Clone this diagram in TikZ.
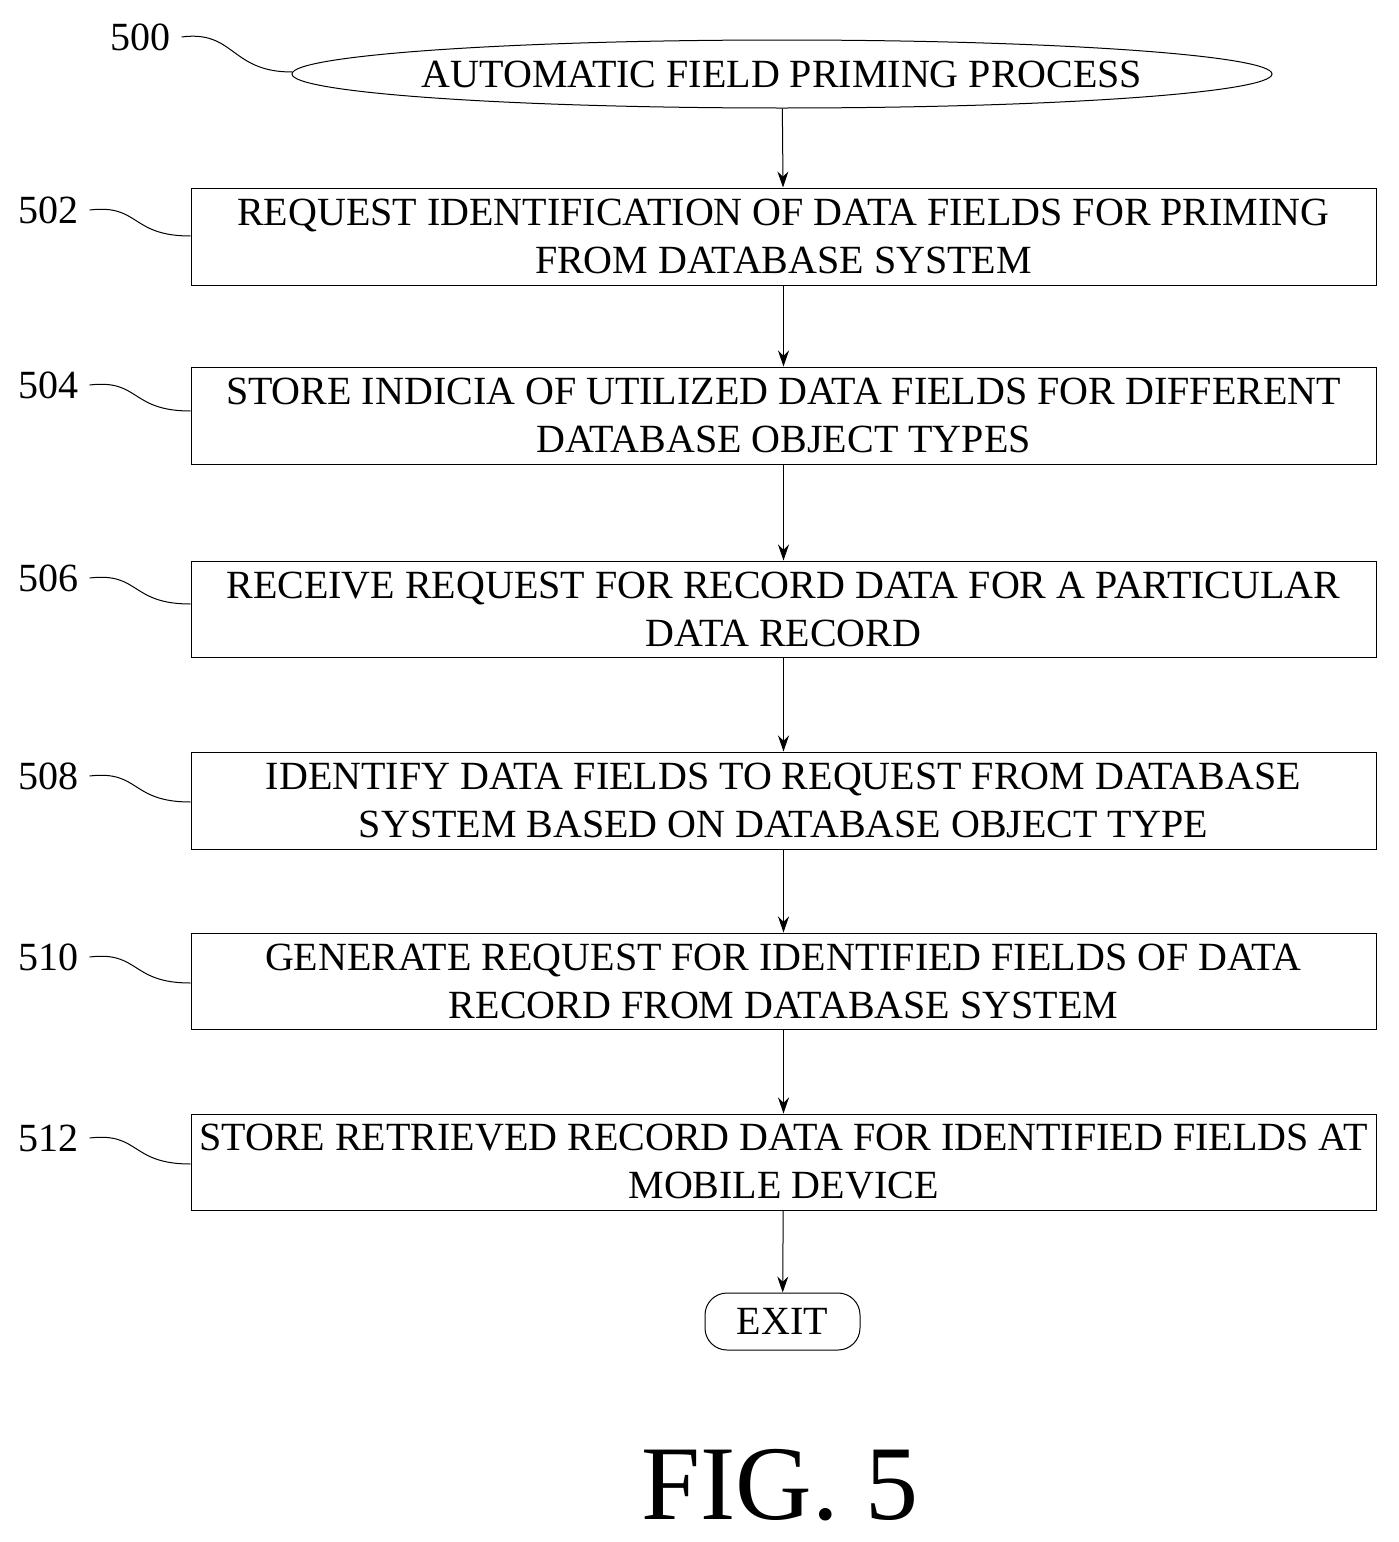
\documentclass[tikz,border=0pt]{standalone}
\usepackage{fontspec}
\setmainfont{Liberation Serif}
\usetikzlibrary{shapes.geometric,arrows.meta}
\begin{document}
\begin{tikzpicture}[x=1pt,y=-1pt,
 box/.style={draw,line width=1pt,minimum width=1185pt,align=center,font=\fontsize{40}{48}\selectfont,inner sep=0pt},
 lab/.style={font=\fontsize{40}{44}\selectfont},
 arr/.style={-{Stealth[length=16pt,width=11pt]},line width=1pt},
 lead/.style={line width=1pt}]
\useasboundingbox (0,0) rectangle (1398,1542);
\node[draw,ellipse,line width=1pt,minimum width=980pt,minimum height=68pt,inner xsep=-15pt,inner ysep=0pt,font=\fontsize{40}{44}\selectfont] (s) at (782,74) {AUTOMATIC FIELD PRIMING PROCESS};
\node[box,minimum height=97pt] (b2) at (783.5,236.5) {REQUEST IDENTIFICATION OF DATA FIELDS FOR PRIMING\\FROM DATABASE SYSTEM};
\node[box,minimum height=97pt] (b4) at (783.5,415.5) {STORE INDICIA OF UTILIZED DATA FIELDS FOR DIFFERENT\\DATABASE OBJECT TYPES};
\node[box,minimum height=96pt] (b6) at (783.5,609) {RECEIVE REQUEST FOR RECORD DATA FOR A PARTICULAR\\DATA RECORD};
\node[box,minimum height=97pt] (b8) at (783.5,800.5) {IDENTIFY DATA FIELDS TO REQUEST FROM DATABASE\\SYSTEM BASED ON DATABASE OBJECT TYPE};
\node[box,minimum height=96pt] (b10) at (783.5,981) {GENERATE REQUEST FOR IDENTIFIED FIELDS OF DATA\\RECORD FROM DATABASE SYSTEM};
\node[box,minimum height=96pt] (b12) at (783.5,1162) {STORE RETRIEVED RECORD DATA FOR IDENTIFIED FIELDS AT\\MOBILE DEVICE};
\node[draw,rounded corners=22pt,line width=1pt,minimum width=155pt,minimum height=57pt,inner sep=0pt,font=\fontsize{40}{44}\selectfont] (e) at (782.5,1321.5) {EXIT};
\draw[arr] (s) -- (b2);
\draw[arr] (b2) -- (b4);
\draw[arr] (b4) -- (b6);
\draw[arr] (b6) -- (b8);
\draw[arr] (b8) -- (b10);
\draw[arr] (b10) -- (b12);
\draw[arr] (b12) -- (e);
\node[lab] (l0) at (140,37) {500};
\coordinate (c0) at (292,72);
\draw[lead] (l0.east) ++(8,0) .. controls (235,30) and (230,72) .. (c0);
\foreach \n/\y/\b in {502/210/b2,504/385/b4,506/578/b6,508/776/b8,510/957/b10,512/1138/b12}{
 \node[lab] (l\n) at (48,\y) {\n};
 \draw[lead] (l\n.east) ++(8,0) .. controls (140,\y-6) and (130,\y+26) .. (\b.west |- 0,\y+26);
}
\node[font=\fontsize{106}{116}\selectfont] (fig) at (780,1485) {FIG. 5};
\end{tikzpicture}
\end{document}
